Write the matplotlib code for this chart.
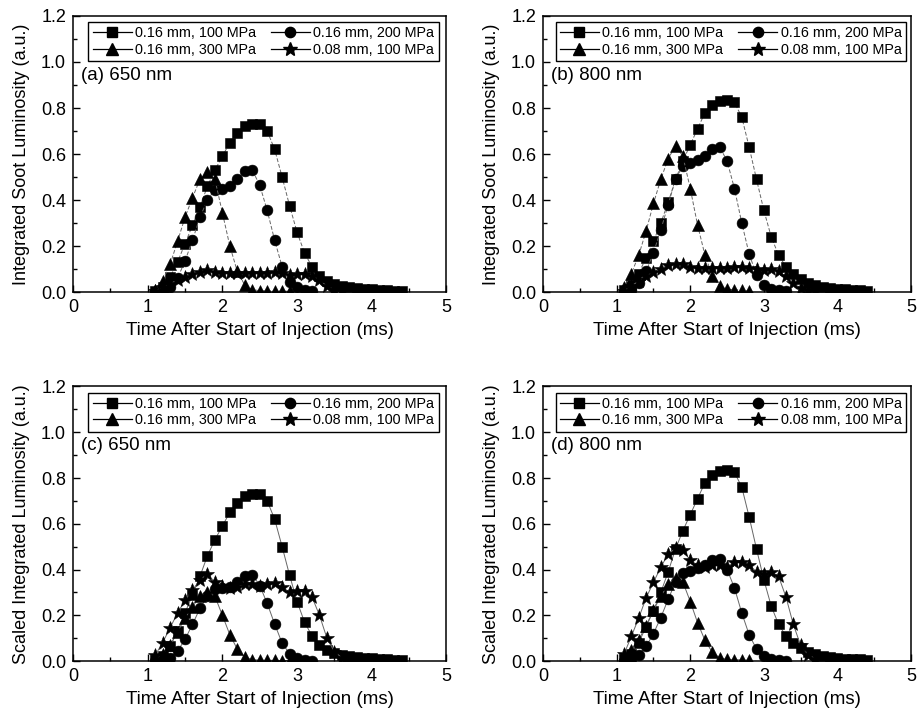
#!/usr/bin/env python3
# -*- coding: utf-8 -*-
"""
Integrated soot luminosity vs. time after start of injection,
four nozzle/pressure conditions, 650 nm and 800 nm, raw and scaled.
"""

import matplotlib.pyplot as plt
from matplotlib.lines import Line2D
from matplotlib.ticker import MultipleLocator

plt.rcParams['font.family'] = ['Liberation Sans', 'DejaVu Sans']

# time after SOI (ms), shared sampling grid
t_ms = [1.1, 1.2, 1.3, 1.4, 1.5, 1.6, 1.7, 1.8, 1.9, 2.0,
        2.1, 2.2, 2.3, 2.4, 2.5, 2.6, 2.7, 2.8, 2.9, 3.0,
        3.1, 3.2, 3.3, 3.4, 3.5, 3.6, 3.7, 3.8, 3.9, 4.0,
        4.1, 4.2, 4.3, 4.4]

labels = ['0.16 mm, 100 MPa', '0.16 mm, 200 MPa',
          '0.16 mm, 300 MPa', '0.08 mm, 100 MPa']

# (a) 650 nm
a_100 = [0.005, 0.02, 0.065, 0.13, 0.21, 0.29, 0.37, 0.46, 0.53, 0.59,
         0.65, 0.69, 0.72, 0.73, 0.73, 0.70, 0.62, 0.50, 0.375, 0.26,
         0.17, 0.11, 0.07, 0.05, 0.035, 0.028, 0.022, 0.018, 0.015, 0.012,
         0.01, 0.008, 0.006, 0.005]
a_200 = [0.0, 0.005, 0.02, 0.06, 0.135, 0.225, 0.325, 0.40, 0.445, 0.45,
         0.46, 0.49, 0.525, 0.53, 0.465, 0.355, 0.225, 0.11, 0.045, 0.02,
         0.008, 0.003]
a_300 = [0.01, 0.05, 0.12, 0.22, 0.325, 0.41, 0.49, 0.52, 0.49, 0.345,
         0.20, 0.09, 0.03, 0.01, 0.006, 0.005, 0.005, 0.004, 0.003]
a_008 = [0.006, 0.02, 0.036, 0.053, 0.066, 0.078, 0.089, 0.095, 0.087, 0.083,
         0.081, 0.082, 0.084, 0.084, 0.083, 0.084, 0.085, 0.082, 0.076, 0.077,
         0.077, 0.071, 0.051, 0.026, 0.01, 0.004]

# (b) 800 nm
b_100 = [0.01, 0.03, 0.08, 0.15, 0.22, 0.30, 0.39, 0.49, 0.57, 0.64,
         0.71, 0.78, 0.815, 0.83, 0.835, 0.825, 0.76, 0.63, 0.49, 0.355,
         0.24, 0.16, 0.11, 0.078, 0.055, 0.04, 0.03, 0.023, 0.018, 0.014,
         0.011, 0.009, 0.007, 0.005]
b_200 = [0.0, 0.01, 0.04, 0.09, 0.17, 0.27, 0.38, 0.49, 0.55, 0.56,
         0.575, 0.59, 0.62, 0.63, 0.57, 0.45, 0.30, 0.165, 0.075, 0.03,
         0.015, 0.008, 0.003]
b_300 = [0.02, 0.08, 0.16, 0.265, 0.385, 0.49, 0.58, 0.635, 0.59, 0.45,
         0.29, 0.16, 0.07, 0.025, 0.012, 0.01, 0.008, 0.005]
b_008 = [0.005, 0.027, 0.047, 0.069, 0.086, 0.102, 0.117, 0.123, 0.121, 0.11,
         0.105, 0.103, 0.105, 0.105, 0.103, 0.108, 0.108, 0.105, 0.098, 0.095,
         0.098, 0.093, 0.07, 0.04, 0.017, 0.007, 0.003]

# (c) 650 nm, scaled
c_200 = [0.0, 0.004, 0.015, 0.043, 0.095, 0.16, 0.23, 0.283, 0.315, 0.318,
         0.325, 0.346, 0.371, 0.378, 0.33, 0.252, 0.162, 0.078, 0.032, 0.014,
         0.006, 0.002]
c_300 = [0.006, 0.029, 0.07, 0.127, 0.188, 0.237, 0.283, 0.30, 0.283, 0.20,
         0.115, 0.052, 0.017, 0.006, 0.004, 0.003, 0.003, 0.002, 0.002]
c_008 = [0.025, 0.08, 0.145, 0.21, 0.265, 0.31, 0.355, 0.38, 0.345, 0.33,
         0.32, 0.325, 0.335, 0.335, 0.33, 0.335, 0.34, 0.325, 0.30, 0.305,
         0.305, 0.28, 0.20, 0.10, 0.04, 0.015, 0.005]

# (d) 800 nm, scaled
d_200 = [0.0, 0.007, 0.028, 0.064, 0.12, 0.19, 0.27, 0.345, 0.385, 0.395,
         0.407, 0.418, 0.44, 0.447, 0.40, 0.32, 0.21, 0.115, 0.052, 0.02,
         0.009, 0.004, 0.002]
d_300 = [0.012, 0.046, 0.093, 0.155, 0.222, 0.283, 0.335, 0.365, 0.345, 0.26,
         0.167, 0.09, 0.038, 0.014, 0.007, 0.006, 0.005, 0.003]
d_008 = [0.03, 0.108, 0.188, 0.276, 0.344, 0.41, 0.468, 0.492, 0.485, 0.44,
         0.42, 0.41, 0.42, 0.42, 0.412, 0.432, 0.432, 0.42, 0.39, 0.38,
         0.39, 0.37, 0.28, 0.16, 0.068, 0.028, 0.01]

markers = ['s', 'o', '^', '*']
msizes = [7.0, 7.8, 8.4, 10.5]


def draw_panel(ax, series, tag, ylabel, ls):
    for vals, m, ms in zip(series, markers, msizes):
        ax.plot(t_ms[:len(vals)], vals, linestyle=ls, color='0.4', lw=0.7,
                marker=m, ms=ms, mfc='black', mec='black', mew=0.4)

    ax.set_xlim(0, 5)
    ax.set_ylim(0, 1.2)
    ax.xaxis.set_major_locator(MultipleLocator(1))
    ax.xaxis.set_minor_locator(MultipleLocator(0.5))
    ax.yaxis.set_major_locator(MultipleLocator(0.2))
    ax.yaxis.set_minor_locator(MultipleLocator(0.1))
    ax.yaxis.set_major_formatter('{x:.1f}')
    ax.tick_params(which='both', direction='in', labelsize=13, width=1)
    ax.tick_params(which='major', length=5, pad=5)
    ax.tick_params(which='minor', length=3)
    for sp in ax.spines.values():
        sp.set_linewidth(1.1)

    ax.set_xlabel('Time After Start of Injection (ms)', fontsize=13.5,
                  labelpad=4)
    ax.set_ylabel(ylabel, fontsize=13, labelpad=8)
    ax.text(0.022, 0.785, tag, transform=ax.transAxes, fontsize=13.5,
            ha='left', va='center')

    # legend: proxies with solid black stubs, column order sq/tri | circ/star
    proxies = [Line2D([], [], color='black', lw=0.9, marker=m, ms=ms * 0.95,
                      mfc='black', mec='black') for m, ms in zip(markers, msizes)]
    order = [0, 2, 1, 3]
    leg = ax.legend([proxies[i] for i in order], [labels[i] for i in order],
                    ncol=2, loc='upper center', bbox_to_anchor=(0.51, 0.978),
                    fontsize=10.4, frameon=True, fancybox=False, framealpha=1,
                    edgecolor='black', borderpad=0.3, labelspacing=0.18,
                    handlelength=2.7, handletextpad=0.25, columnspacing=1.0,
                    borderaxespad=0)
    leg.get_frame().set_linewidth(1.0)


fig = plt.figure(figsize=(9.19, 7.11), dpi=100)
ax_a = fig.add_axes([0.0794, 0.5893, 0.4064, 0.3882])
ax_b = fig.add_axes([0.5909, 0.5893, 0.4005, 0.3882])
ax_c = fig.add_axes([0.0794, 0.0703, 0.4064, 0.3861])
ax_d = fig.add_axes([0.5909, 0.0703, 0.4005, 0.3861])

dash = (0, (4, 2))
draw_panel(ax_a, [a_100, a_200, a_300, a_008], '(a) 650 nm',
           'Integrated Soot Luminosity (a.u.)', dash)
draw_panel(ax_b, [b_100, b_200, b_300, b_008], '(b) 800 nm',
           'Integrated Soot Luminosity (a.u.)', dash)
# reference condition (0.16 mm, 100 MPa) has unit scaling factor
draw_panel(ax_c, [a_100, c_200, c_300, c_008], '(c) 650 nm',
           'Scaled Integrated Luminosity (a.u.)', '-')
draw_panel(ax_d, [b_100, d_200, d_300, d_008], '(d) 800 nm',
           'Scaled Integrated Luminosity (a.u.)', '-')

fig.savefig('out.png', dpi=100, facecolor='white')
plt.close(fig)
